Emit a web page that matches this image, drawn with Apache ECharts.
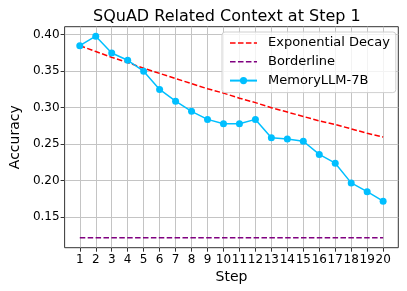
<!DOCTYPE html>
<html>
<head>
<meta charset="utf-8">
<script src="https://cdn.jsdelivr.net/npm/echarts@6/dist/echarts.min.js"></script>
<style>
html,body{margin:0;padding:0;background:#fff;}
#chart{width:407px;height:291px;}
</style>
</head>
<body>
<div id="chart"></div>
<script>
const steps = [1,2,3,4,5,6,7,8,9,10,11,12,13,14,15,16,17,18,19,20];
const memoryLLM = [0.385,0.398,0.375,0.365,0.350,0.325,0.309,0.295,0.284,0.278,0.278,0.284,0.259,0.257,0.254,0.236,0.224,0.197,0.185,0.172];
const expDecay = [0.385,0.377,0.369,0.362,0.354,0.347,0.340,0.333,0.326,0.320,0.313,0.307,0.300,0.294,0.288,0.282,0.277,0.271,0.265,0.260];
const borderline = [0.122,0.122,0.122,0.122,0.122,0.122,0.122,0.122,0.122,0.122,0.122,0.122,0.122,0.122,0.122,0.122,0.122,0.122,0.122,0.122];
const yTicks = [0.15,0.20,0.25,0.30,0.35,0.40];
const xTicks = steps;

const font = 'DejaVu Sans';
const pair = arr => steps.map((s,i)=>[s,arr[i]]);
const dashIcon = 'path://M0,0h5.55v1.5h-5.55z M7.95,0h5.55v1.5h-5.55z M15.9,0h5.55v1.5h-5.55z M23.85,0h3.15v1.5h-3.15z';

const chart = echarts.init(document.getElementById('chart'), null, {renderer:'canvas'});
chart.setOption({
  animation:false,
  backgroundColor:'#ffffff',
  title:{
    text:'SQuAD Related Context at Step 1',
    left:93, top:9, padding:0,
    textStyle:{fontFamily:font,fontSize:16,fontWeight:'normal',color:'#000'}
  },
  grid:{left:57.3,right:8.7,top:26.7,bottom:43.3,show:true,borderColor:'#333',borderWidth:1,backgroundColor:'transparent'},
  legend:{
    orient:'vertical', left:222, top:32,
    padding:[4,6,5,7],
    itemWidth:27, itemHeight:9, itemGap:4.8,
    backgroundColor:'rgba(255,255,255,0.8)', borderColor:'#d0d0d0', borderWidth:1, borderRadius:3,
    textStyle:{fontFamily:font,fontSize:13,color:'#000',padding:[0,0,0,6],lineHeight:14},
    data:[
      {name:'Exponential Decay',icon:dashIcon,itemStyle:{color:'#ff0000'}},
      {name:'Borderline',icon:dashIcon,itemStyle:{color:'#800080'}},
      {name:'MemoryLLM-7B'}
    ]
  },
  xAxis:{
    type:'value', min:0.05, max:20.95,
    name:'Step', nameLocation:'middle', nameGap:19,
    nameTextStyle:{fontFamily:font,fontSize:14,color:'#000'},
    axisLine:{show:false},
    axisTick:{show:true,inside:false,length:4,lineStyle:{color:'#333'},customValues:xTicks},
    axisLabel:{fontFamily:font,fontSize:12,color:'#000',margin:6,customValues:xTicks,formatter:v=>String(v)},
    splitLine:{show:true,lineStyle:{color:'#c4c4c4',width:1}}
  },
  yAxis:{
    type:'value', min:0.1082, max:0.4110,
    name:'Accuracy', nameLocation:'middle', nameGap:35,
    nameTextStyle:{fontFamily:font,fontSize:14,color:'#000'},
    axisLine:{show:false},
    axisTick:{show:true,inside:false,length:4,lineStyle:{color:'#333'},customValues:yTicks},
    axisLabel:{fontFamily:font,fontSize:12,color:'#000',margin:5,customValues:yTicks,formatter:v=>v.toFixed(2)},
    splitLine:{show:true,lineStyle:{color:'#c4c4c4',width:1}}
  },
  series:[
    {name:'Exponential Decay',type:'line',data:pair(expDecay),showSymbol:false,symbol:'none',
     lineStyle:{color:'#ff0000',width:1.5,type:[5.5,2.4]},itemStyle:{color:'#ff0000'},z:3},
    {name:'Borderline',type:'line',data:pair(borderline),showSymbol:false,symbol:'none',
     lineStyle:{color:'#800080',width:1.5,type:[5.5,2.4]},itemStyle:{color:'#800080'},z:3},
    {name:'MemoryLLM-7B',type:'line',data:pair(memoryLLM),symbol:'circle',symbolSize:7,
     lineStyle:{color:'#00bfff',width:1.5},itemStyle:{color:'#00bfff'},z:4}
  ]
});
</script>
</body>
</html>
